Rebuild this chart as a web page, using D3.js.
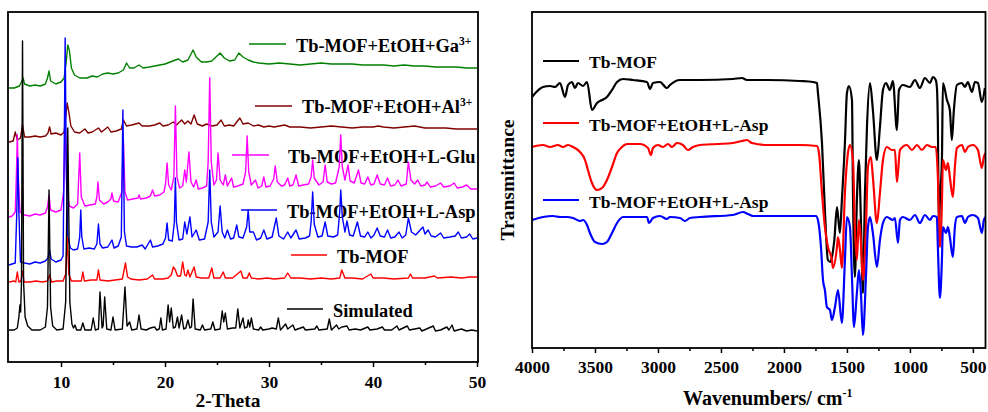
<!DOCTYPE html>
<html><head><meta charset="utf-8">
<script src="https://cdn.jsdelivr.net/npm/d3@7"></script>
<style>
body{margin:0;background:#fff;}
svg{display:block;}
text{font-family:"Liberation Serif","Times New Roman",serif;font-weight:bold;fill:#000;}
</style>
</head><body>
<svg id="chart" width="988" height="412"></svg>
<script>
// ---------------- XRD data (2-Theta, intensity a.u.) ----------------
const xrdTicks = [10, 20, 30, 40, 50];
const xrdMinorTicks = [15, 25, 35, 45];

const simulated = [[5.0,32],[5.5,32],[5.8,34],[5.95,45],[6.05,57],[6.12,50],[6.2,80],[6.3,321],[6.4,80],[6.55,45],[6.8,36],[7.2,32],
[8.0,32],[8.5,35],[8.7,55],[8.85,172],[9.0,55],[9.2,36],[9.6,32],
[10.2,33],[10.45,60],[10.65,234],[10.85,60],[11.05,38],[11.2,34],[11.35,37],[11.5,32],
[11.9,32],[12.1,39],[12.3,32],[12.9,32],[13.1,44],[13.3,32],[13.6,33],[13.75,70],[13.95,34],[14.05,36],[14.2,65],[14.4,33],
[14.8,32],[15.0,45],[15.2,32],[15.9,33],[16.15,75],[16.35,36],[16.6,40],[16.8,32],
[17.3,33],[17.5,47],[17.7,33],[18.2,32],[18.6,34],[19.0,35],[19.2,32],[19.45,33],[19.6,44],[19.75,32],
[20.1,33],[20.3,57],[20.45,40],[20.6,54],[20.8,34],[21.0,35],[21.2,45],[21.35,34],[21.6,47],[21.8,33],[22.0,34],[22.2,42],[22.4,34],[22.55,35],[22.7,63],[22.9,33],
[23.4,32],[23.6,37],[23.8,32],[24.4,33],[24.6,40],[24.8,32],[25.3,33],[25.5,51],[25.65,40],[25.8,49],[26.0,33],[26.5,34],[26.8,34],[27.0,53],[27.2,34],[27.5,44],[27.65,34],[27.9,35],[28.0,42],[28.15,35],[28.3,44],[28.5,33],[29.0,32],[29.2,35],[29.4,32],[30.0,33],[30.3,34],[30.7,33],[30.9,44],[31.1,32],[31.6,38],[31.8,33],[32.3,37],[32.5,32],[33.3,35],[33.5,32],[34.4,33],[34.6,36],[34.8,32],[35.6,33],[35.8,43],[36.0,32],[36.5,37],[36.7,33],[37.0,35],[37.5,36],[37.7,32],[38.3,33],[38.8,32],[39.5,35],[39.7,32],[40.4,33],[40.9,35],[41.1,32],[41.8,32],[42.3,36],[42.5,32],[43.3,36],[43.5,32],[44.5,34],[44.7,31],[45.8,36],[46.0,31],[46.5,32],[47.1,35],[47.3,32],[47.6,37],[47.8,31],[48.5,33],[49.0,31],[49.5,32],[50,31]];

const tbMof = [[5.0,80],[5.5,81],[5.65,80],[5.8,90],[5.95,80],[6.15,81],[6.3,91],[6.45,80],[7,80],[7.6,81],[8.2,80],[8.7,81],[8.9,87],[9.1,80],[9.6,81],[10.2,81],[10.45,88],[10.6,125],[10.75,88],[11.0,81],[11.6,81],[11.95,81],[12.1,90],[12.25,81],[12.9,82],[13.45,82],[13.6,92],[13.75,82],[14.5,81],[15.2,82],[15.9,83],[16.2,99],[16.4,85],[16.7,83],[17.5,82],[18.3,83],[18.8,87],[19.0,83],[19.8,83],[20.3,84],[20.6,87],[20.8,95],[21.0,92],[21.2,86],[21.5,86],[21.7,100],[21.9,87],[22.05,86],[22.2,92],[22.4,85],[22.8,95],[23.0,85],[23.5,84],[24.2,84],[24.5,94],[24.7,84],[25.3,84],[25.6,90],[25.8,84],[26.5,84],[27.3,91],[27.5,84],[27.9,84],[28.1,89],[28.3,84],[29,83],[29.8,84],[30.5,83],[31.5,84],[31.8,89],[32.1,84],[33,84],[34,83],[35,84],[36,83],[36.8,84],[37.0,92],[37.3,84],[38,84],[39.0,83],[39.8,88],[40.0,84],[41,84],[42,83],[43.4,84],[43.6,88],[43.8,84],[45,84],[45.9,86],[46.2,84],[47.5,85],[48.5,84],[49.3,85],[50,85]];

const lAsp = [[5.0,97],[5.3,98],[5.6,99],[5.75,150],[5.85,204],[5.95,150],[6.1,100],[6.5,99],[7.0,98],[7.5,100],[8.0,99],[8.5,101],[8.75,104],[8.9,112],[9.05,103],[9.5,100],[10.0,102],[10.2,106],[10.3,200],[10.4,324],[10.5,200],[10.65,125],[10.9,114],[11.2,112],[11.6,113],[11.8,125],[11.9,152],[12.0,125],[12.2,113],[12.7,114],[13.2,113],[13.45,118],[13.6,138],[13.75,118],[14.0,114],[14.5,115],[14.9,122],[15.1,114],[15.5,116],[15.8,125],[15.95,252],[16.1,130],[16.3,116],[16.8,115],[17.3,115],[17.8,117],[18.1,113],[18.6,122],[18.8,115],[19.3,116],[19.8,118],[20.05,124],[20.2,139],[20.35,122],[20.7,121],[20.9,140],[21.0,184],[21.1,140],[21.35,122],[21.7,123],[21.9,140],[22.1,128],[22.4,145],[22.6,125],[23.0,132],[23.3,122],[23.8,123],[24.15,140],[24.3,192],[24.45,140],[24.7,125],[25.1,130],[25.3,156],[25.5,130],[25.75,124],[26.0,132],[26.3,123],[26.6,124],[26.9,137],[27.1,125],[27.5,124],[27.85,135],[28.0,152],[28.15,130],[28.5,130],[28.8,122],[29.2,124],[29.5,132],[29.8,123],[30.3,125],[30.7,144],[30.95,126],[31.4,123],[31.8,130],[32.1,124],[32.6,132],[32.9,123],[33.5,124],[33.9,126],[34.05,140],[34.2,170],[34.35,138],[34.7,125],[35.1,126],[35.4,140],[35.65,126],[36.2,125],[36.6,127],[36.8,150],[36.9,172],[37.05,145],[37.3,130],[37.5,141],[37.75,127],[38.1,126],[38.5,140],[38.8,126],[39.2,125],[39.5,130],[39.8,124],[40.1,127],[40.4,134],[40.7,126],[41.1,125],[41.4,132],[41.7,124],[42.1,125],[42.5,130],[42.8,124],[43.15,127],[43.4,144],[43.7,130],[44.1,127],[44.8,135],[45.0,128],[45.3,132],[45.6,126],[46.0,125],[46.5,129],[46.8,124],[47.4,125],[47.9,126],[48.2,130],[48.5,124],[49.0,125],[49.3,128],[49.6,123],[50,124]];

const lGlu = [[5.0,145],[5.3,146],[5.6,150],[5.72,190],[5.8,227],[5.9,185],[6.05,150],[6.5,147],[7.0,146],[7.5,148],[8.0,147],[8.5,149],[8.7,155],[8.85,167],[9.0,152],[9.5,150],[10.0,152],[10.25,170],[10.4,242],[10.55,175],[10.8,156],[11.2,154],[11.6,158],[11.8,209],[11.95,165],[12.3,156],[12.8,157],[13.3,158],[13.45,165],[13.55,180],[13.7,162],[14.1,158],[14.5,160],[14.8,163],[14.9,169],[15.05,161],[15.5,160],[15.85,170],[16.0,222],[16.15,170],[16.4,162],[16.9,163],[17.4,164],[17.5,167],[17.65,163],[18.2,164],[18.6,166],[18.8,172],[19.0,166],[19.5,167],[19.9,170],[20.05,178],[20.2,199],[20.35,177],[20.6,172],[20.85,185],[21.0,256],[21.15,185],[21.4,174],[21.7,176],[21.9,192],[22.05,180],[22.3,210],[22.5,180],[22.75,175],[23.0,182],[23.2,173],[23.6,174],[24.0,176],[24.15,200],[24.3,284],[24.45,200],[24.7,177],[24.95,182],[25.1,209],[25.3,182],[25.6,177],[25.8,187],[26.0,176],[26.4,184],[26.6,175],[27.0,176],[27.5,178],[27.75,190],[27.9,226],[28.05,190],[28.3,177],[28.7,182],[28.95,174],[29.3,176],[29.5,185],[29.7,175],[30.1,176],[30.45,183],[30.6,196],[30.8,180],[31.2,176],[31.5,177],[31.8,184],[32.0,176],[32.3,177],[32.6,187],[32.85,176],[33.3,177],[33.8,178],[34.05,185],[34.2,202],[34.35,184],[34.8,177],[35.2,180],[35.4,197],[35.6,180],[36.0,178],[36.4,179],[36.75,195],[36.9,227],[37.05,195],[37.3,182],[37.6,197],[37.8,181],[38.2,179],[38.6,192],[38.85,179],[39.2,178],[39.5,185],[39.8,177],[40.1,178],[40.4,187],[40.7,178],[41.1,177],[41.4,184],[41.7,176],[42.1,177],[42.4,182],[42.7,176],[43.2,178],[43.4,200],[43.65,182],[44.0,178],[44.3,182],[44.6,176],[45.0,177],[45.2,180],[45.5,175],[46.0,176],[46.5,179],[46.8,175],[47.4,176],[47.8,179],[48.1,174],[48.6,175],[49.0,177],[49.4,173],[50,173]];

const alIon = [[5.0,220],[5.4,221],[5.6,230],[5.8,222],[6.1,224],[6.3,237],[6.5,225],[7.0,225],[7.5,226],[8.0,225],[8.5,226],[8.75,229],[8.9,235],[9.05,228],[9.5,229],[10.0,227],[10.3,230],[10.45,245],[10.6,259],[10.75,250],[10.95,236],[11.3,230],[11.8,229],[12.3,233],[12.6,229],[13.0,230],[13.6,234],[13.9,230],[14.5,235],[14.8,230],[15.3,231],[15.8,233],[16.0,242],[16.3,236],[16.8,237],[17.5,239],[17.8,236],[18.5,236],[19.0,237],[19.5,239],[19.8,236],[20.3,237],[20.8,240],[21.1,237],[21.6,242],[21.9,238],[22.2,241],[22.5,238],[22.8,247],[23.1,238],[23.6,236],[24.0,238],[24.5,236],[25.0,237],[25.4,242],[25.7,236],[26.2,237],[26.6,236],[27.2,244],[27.5,238],[28.0,239],[28.5,236],[29.0,237],[29.5,235],[30.0,236],[30.5,235],[31.0,236],[31.5,237],[32.0,235],[33.0,235],[34.0,234],[35.0,235],[36.0,236],[37.0,235],[38.0,234],[39.0,235],[40.0,235],[40.5,236],[41.0,235],[42.0,234],[43.0,235],[44.0,236],[45.0,234],[46.0,234],[47.0,234],[48.0,233],[49.0,233],[50,233]];

const gaIon = [[5.0,274],[5.5,274],[6.0,276],[6.2,280],[6.35,284],[6.5,278],[7.0,276],[7.5,277],[8.0,276],[8.5,278],[8.7,284],[8.85,291],[9.0,281],[9.5,278],[10.0,280],[10.3,284],[10.5,300],[10.65,317],[10.8,312],[11.0,294],[11.3,287],[11.8,284],[12.5,284],[13.0,286],[13.5,285],[14.0,288],[14.5,289],[15.0,288],[15.5,289],[16.0,292],[16.3,299],[16.6,294],[17.0,294],[17.5,297],[17.9,294],[18.5,295],[19.0,296],[19.5,297],[20.0,298],[20.5,300],[21.0,302],[21.3,303],[21.7,300],[22.2,302],[22.7,312],[23.0,305],[23.5,300],[24.0,300],[24.5,301],[25.3,309],[25.7,304],[26.2,301],[26.7,302],[27.1,309],[27.5,305],[28.0,302],[28.5,300],[29.0,299],[30.0,298],[31.0,299],[32.0,298],[33.0,297],[34.0,298],[35.0,299],[36.0,298],[37.0,298],[38.0,298],[39.0,297],[40.0,297],[41.0,297],[42.0,296],[43.0,297],[44.0,296],[45.0,296],[46.0,295],[47.0,295],[48.0,295],[49.0,294],[50,294]];

const xrdNames = ["Simulated", "Tb-MOF", "Tb-MOF+EtOH+L-Asp", "Tb-MOF+EtOH+L-Glu", "Tb-MOF+EtOH+Al", "Tb-MOF+EtOH+Ga"];
const xrdSup = ["", "", "", "", "3+", "3+"];
const xrdColors = ["#000000", "#ff0000", "#0000ff", "#ff00ff", "#800000", "#008000"];
const xrdSeries = [simulated, tbMof, lAsp, lGlu, alIon, gaIon];

// ---------------- FTIR data (wavenumber cm-1, transmittance a.u.) ----------------
const irTicks = [4000, 3500, 3000, 2500, 2000, 1500, 1000, 500];
const irMinorTicks = [3750, 3250, 2750, 2250, 1750, 1250, 750];

const irTbMof = [[4000,251],[3913,261],[3857,262],[3817,261],[3778,265],[3738,251],[3714,263],[3683,266],[3659,260],[3635,265],[3595,262],[3563,266],[3524,238],[3484,245],[3444,248],[3405,251],[3365,258],[3325,266],[3278,269],[3198,268],[3087,266],[3063,259],[3040,265],[2984,266],[2929,260],[2905,263],[2825,268],[2667,268],[2405,269],[2333,270],[2294,268],[2135,268],[1873,267],[1770,266],[1738,265],[1730,255],[1698,205],[1675,138],[1651,88],[1630,86],[1619,91],[1600,108],[1579,141],[1556,115],[1540,148],[1516,205],[1500,255],[1484,262],[1460,248],[1452,155],[1437,71],[1421,148],[1405,188],[1389,128],[1373,55],[1357,155],[1341,221],[1317,265],[1294,238],[1262,188],[1238,221],[1214,258],[1190,265],[1159,258],[1135,267],[1103,218],[1087,258],[1056,263],[1000,261],[960,268],[921,260],[881,270],[841,265],[817,271],[795,268],[786,261],[778,221],[770,118],[762,148],[746,188],[738,265],[706,248],[683,238],[667,208],[651,238],[627,263],[587,265],[563,261],[540,266],[508,256],[484,266],[460,265],[429,246],[405,260]];

const irAsp1 = [[4000,201],[3913,203],[3857,201],[3794,203],[3754,201],[3714,203],[3675,201],[3619,196],[3579,188],[3556,178],[3524,165],[3484,158],[3444,160],[3405,168],[3365,181],[3325,195],[3286,201],[3246,204],[3143,204],[3079,200],[3056,193],[3040,200],[3000,203],[2960,201],[2921,204],[2889,201],[2849,205],[2802,203],[2762,198],[2722,201],[2667,203],[2532,204],[2405,205],[2333,207],[2294,208],[2254,205],[2135,203],[1873,203],[1738,202],[1722,195],[1698,155],[1675,121],[1651,101],[1619,88],[1611,80],[1579,101],[1571,111],[1555,98],[1540,80],[1516,155],[1492,195],[1476,203],[1452,188],[1437,121],[1421,88],[1405,128],[1390,108],[1373,68],[1349,121],[1333,181],[1310,191],[1294,171],[1262,125],[1238,155],[1214,188],[1183,201],[1143,198],[1119,198],[1103,166],[1079,198],[1024,203],[984,198],[944,203],[905,198],[865,203],[825,201],[794,201],[778,171],[762,101],[746,145],[738,188],[714,178],[698,185],[683,171],[659,151],[643,181],[627,200],[587,203],[563,196],[540,201],[500,203],[460,198],[429,180],[413,191],[400,195]];

const irAsp2 = [[4000,128],[3913,131],[3833,132],[3778,131],[3722,131],[3675,130],[3619,127],[3595,128],[3563,123],[3540,115],[3500,106],[3444,104],[3405,106],[3365,115],[3325,125],[3278,131],[3198,131],[3087,131],[3071,125],[3040,130],[2984,132],[2929,129],[2905,131],[2825,130],[2786,127],[2746,130],[2667,131],[2405,133],[2325,136],[2286,134],[2246,132],[2135,132],[1770,132],[1746,132],[1730,128],[1706,101],[1690,68],[1675,58],[1659,41],[1635,38],[1619,28],[1595,41],[1571,58],[1540,25],[1516,88],[1500,131],[1476,121],[1460,71],[1444,21],[1421,55],[1405,78],[1389,55],[1373,13],[1349,71],[1333,121],[1317,131],[1294,115],[1262,81],[1238,108],[1214,125],[1183,131],[1135,128],[1119,130],[1095,105],[1079,128],[1056,131],[1000,128],[960,133],[921,125],[881,133],[841,128],[817,132],[786,131],[778,101],[762,50],[746,88],[738,121],[714,115],[698,121],[683,111],[659,91],[643,121],[627,131],[587,132],[563,125],[540,131],[500,133],[460,130],[429,115],[413,128],[400,131]];

const irNames = ["Tb-MOF", "Tb-MOF+EtOH+L-Asp", "Tb-MOF+EtOH+L-Asp"];
const irColors = ["#000000", "#ff0000", "#0000ff"];
const irSeries = [irTbMof, irAsp1, irAsp2];

// ---------------- layout ----------------
const L = {x0: 8, x1: 478, y0: 12, y1: 362};
const R = {x0: 532, x1: 985.5, y0: 12, y1: 348};
// legend layout: [lineX1, lineX2, lineY, textX, textBaseline]
const xrdLegendPos = [[287,323,309,333,317],[291,327,255,337,263],[241,277,210,287,218],[232,269,155,288,163],[255,292,106,302,113],[249,286,44,296,52]];
const irLegendPos = [[543,579,61,589,68],[543,579,123,589,131],[543,579,200,589,208]];

const svg = d3.select("#chart");
svg.append("rect").attr("width", 988).attr("height", 412).attr("fill", "#fff");

// ===== Left panel: XRD =====
const xL = d3.scaleLinear().domain([5, 50]).range([L.x0 + 1, L.x1 - 1]);
const yL = d3.scaleLinear().domain([0, 350]).range([L.y1, L.y0]);

svg.append("clipPath").attr("id", "clipL").append("rect")
  .attr("x", L.x0).attr("y", L.y0).attr("width", L.x1 - L.x0).attr("height", L.y1 - L.y0);
svg.append("clipPath").attr("id", "clipR").append("rect")
  .attr("x", R.x0).attr("y", R.y0).attr("width", R.x1 - R.x0).attr("height", R.y1 - R.y0);

function legend(g, pos, color, name, sup, fs, lw) {
  g.append("line").attr("x1", pos[0]).attr("x2", pos[1]).attr("y1", pos[2]).attr("y2", pos[2])
    .attr("stroke", color).attr("stroke-width", lw);
  const t = g.append("text").attr("x", pos[3]).attr("y", pos[4]).attr("font-size", fs).text(name);
  if (sup) t.append("tspan").attr("dy", -7.5).attr("font-size", 11.5).text(sup);
}

const legL = svg.append("g");
xrdSeries.forEach((s, i) => legend(legL, xrdLegendPos[i], xrdColors[i], xrdNames[i], xrdSup[i], 18.4, 1.6));

const lineL = d3.line().x(d => xL(d[0])).y(d => yL(d[1]));
const gL = svg.append("g").attr("clip-path", "url(#clipL)");
// draw back to front: Ga, Al, Glu, Asp, Tb-MOF, Simulated
for (let i = xrdSeries.length - 1; i >= 0; i--) {
  gL.append("path").datum(xrdSeries[i]).attr("d", lineL)
    .attr("fill", "none").attr("stroke", xrdColors[i]).attr("stroke-width", 1.4)
    .attr("stroke-linejoin", "round");
}

const axL = svg.append("g").attr("transform", `translate(0,${L.y1})`)
  .call(d3.axisBottom(xL).tickValues(xrdTicks).tickSize(5).tickPadding(9).tickFormat(d3.format("d")));
axL.select(".domain").remove();
axL.selectAll("line").attr("stroke-width", 1.5);
axL.selectAll("text").attr("font-size", 17.5).style("font-family", '"Liberation Serif","Times New Roman",serif').style("font-weight", "bold");
const axLm = svg.append("g").attr("transform", `translate(0,${L.y1})`)
  .call(d3.axisBottom(xL).tickValues(xrdMinorTicks).tickSize(3).tickFormat(""));
axLm.select(".domain").remove();
axLm.selectAll("line").attr("stroke-width", 1.5);

svg.append("rect").attr("x", L.x0).attr("y", L.y0).attr("width", L.x1 - L.x0).attr("height", L.y1 - L.y0)
  .attr("fill", "none").attr("stroke", "#000").attr("stroke-width", 1.8);

svg.append("text").attr("x", 228).attr("y", 407).attr("text-anchor", "middle").attr("font-size", 19.5).text("2-Theta");

// ===== Right panel: FTIR =====
const xR = d3.scaleLinear().domain([4000, 400]).range([R.x0, R.x1]);
const yR = d3.scaleLinear().domain([0, 336]).range([R.y1, R.y0]);

const legR = svg.append("g");
irSeries.forEach((s, i) => legend(legR, irLegendPos[i], irColors[i], irNames[i], "", 17.5, 2.2));

const lineR = d3.line().x(d => xR(d[0])).y(d => yR(d[1])).curve(d3.curveMonotoneX);
const gR = svg.append("g").attr("clip-path", "url(#clipR)");
irSeries.forEach((s, i) => {
  gR.append("path").datum(s).attr("d", lineR)
    .attr("fill", "none").attr("stroke", irColors[i]).attr("stroke-width", 2.2)
    .attr("stroke-linejoin", "round");
});

const axR = svg.append("g").attr("transform", `translate(0,${R.y1})`)
  .call(d3.axisBottom(xR).tickValues(irTicks).tickSize(5).tickPadding(8).tickFormat(d3.format("d")));
axR.select(".domain").remove();
axR.selectAll("line").attr("stroke-width", 1.5);
axR.selectAll("text").attr("font-size", 17.5).style("font-family", '"Liberation Serif","Times New Roman",serif').style("font-weight", "bold");
const axRm = svg.append("g").attr("transform", `translate(0,${R.y1})`)
  .call(d3.axisBottom(xR).tickValues(irMinorTicks).tickSize(3).tickFormat(""));
axRm.select(".domain").remove();
axRm.selectAll("line").attr("stroke-width", 1.5);

svg.append("rect").attr("x", R.x0).attr("y", R.y0).attr("width", R.x1 - R.x0).attr("height", R.y1 - R.y0)
  .attr("fill", "none").attr("stroke", "#000").attr("stroke-width", 1.8);

const wt = svg.append("text").attr("x", 683).attr("y", 405).attr("font-size", 20).text("Wavenumbers/ cm");
wt.append("tspan").attr("dy", -8).attr("font-size", 12).text("-1");

svg.append("text").attr("transform", "translate(514,180) rotate(-90)")
  .attr("text-anchor", "middle").attr("font-size", 19.5).text("Transmittance");
</script>
</body></html>
